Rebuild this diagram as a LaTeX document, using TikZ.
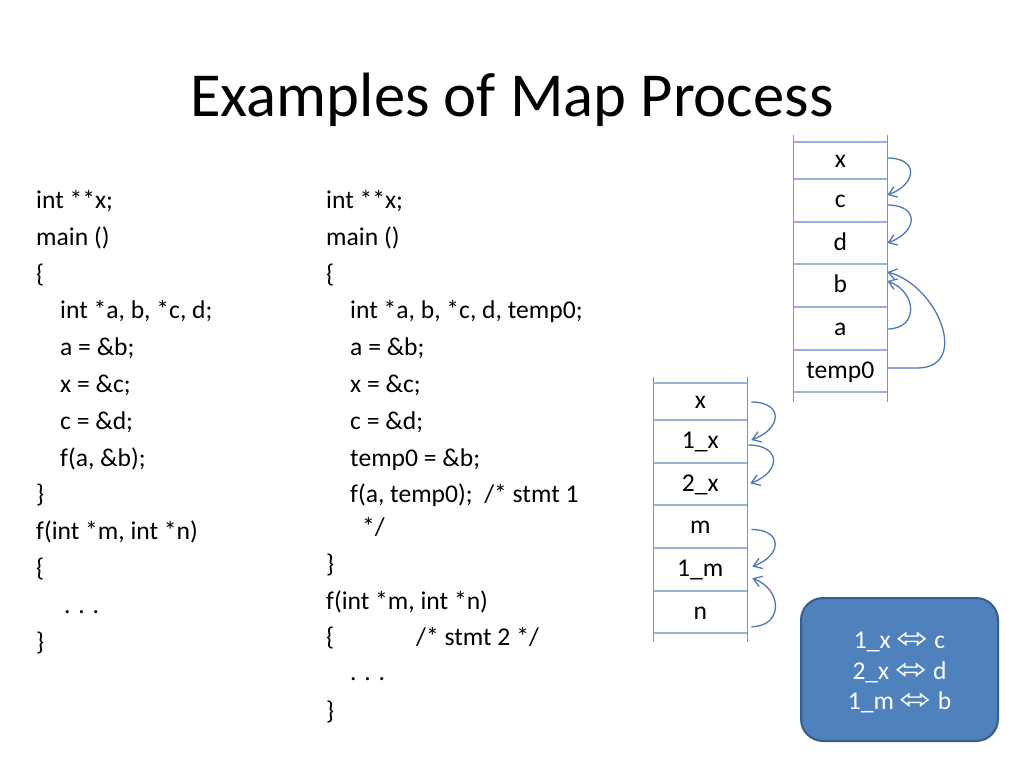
\documentclass[tikz,border=0pt]{standalone}
\usepackage{fontspec}
\setmainfont{Carlito}
\newfontfamily\symfont{DejaVu Sans}
\usetikzlibrary{positioning,arrows.meta}
\definecolor{arrowblue}{HTML}{4E78B8}
\definecolor{cellline}{HTML}{9AB3DD}
\definecolor{stackline}{HTML}{8193B7}
\definecolor{boxfill}{HTML}{4F81BD}
\definecolor{boxline}{HTML}{385D8A}
\newcommand{\codesize}{\fontsize{25.6}{30.8}\selectfont}
\newcommand{\titlesize}{\fontsize{62.6}{75}\selectfont}
\newcommand{\maps}{{\symfont\scalebox{1.5}[1.15]{⬄}}}
\tikzset{
  code/.style={anchor=base west, inner sep=0pt, font=\codesize},
  cell/.style={minimum width=94pt, inner sep=0pt, outer sep=0pt, text height=18pt, text depth=4pt, font=\codesize},
  ptr/.style={draw=arrowblue, line width=1.3pt, -{Straight Barb[length=8pt,width=11pt]}},
  mapbox/.style={rounded corners=22pt, fill=boxfill, draw=boxline, line width=2pt, minimum width=197pt, minimum height=143pt},
  maptext/.style={text=white, align=center, inner sep=0pt, font=\codesize}
}

\begin{document}
\begin{tikzpicture}[x=1pt, y=1pt, node distance=0pt]
\useasboundingbox[fill=white] (0,0) rectangle (1024,-768);
\node[anchor=base, inner sep=0pt, font=\titlesize] (title) at (512,-116.7) {Examples of Map Process};

% original program
\node[code] (src1) at (36,-208.5) {int **x;};
\node[code] (src2) at (36,-245.3) {main ()};
\node[code] (src3) at (36,-282.1) {\{};
\node[code] (src4) at (60,-318.9) {int *a, b, *c, d;};
\node[code] (src5) at (60,-355.7) {a = \&b;};
\node[code] (src6) at (60,-392.5) {x = \&c;};
\node[code] (src7) at (60,-429.3) {c = \&d;};
\node[code] (src8) at (60,-466.1) {f(a, \&b);};
\node[code] (src9) at (36,-502.9) {\}};
\node[code] (src10) at (36,-539.7) {f(int *m, int *n)};
\node[code] (src11) at (36,-576.5) {\{};
\node[code] (src12) at (64,-613.3) {. . .};
\node[code] (src13) at (36,-650.1) {\}};

% program with temp0
\node[code] (tmp1) at (326,-208.5) {int **x;};
\node[code] (tmp2) at (326,-245.3) {main ()};
\node[code] (tmp3) at (326,-282.1) {\{};
\node[code] (tmp4) at (350,-318.9) {int *a, b, *c, d, temp0;};
\node[code] (tmp5) at (350,-355.7) {a = \&b;};
\node[code] (tmp6) at (350,-392.5) {x = \&c;};
\node[code] (tmp7) at (350,-429.3) {c = \&d;};
\node[code] (tmp8) at (350,-466.1) {temp0 = \&b;};
\node[code] (tmp9) at (350,-502.9) {f(a, temp0);\ \ /* stmt 1};
\node[code] (tmp10) at (362,-535.4) {*/};
\node[code] (tmp11) at (326,-572.2) {\}};
\node[code] (tmp12) at (326,-609) {f(int *m, int *n)};
\node[code] (tmp13) at (326,-645.8) {\makebox[90pt][l]{\{}/* stmt 2 */};
\node[code] (tmp14) at (350,-680) {. . .};
\node[code] (tmp15) at (326,-719.4) {\}};

% stack of main
\node[cell, minimum height=37pt] (sx) at (840.3,-160.5) {x};
\node[cell, minimum height=43pt, below=of sx] (sc) {c};
\node[cell, minimum height=42pt, below=of sc] (sd) {d};
\node[cell, minimum height=43pt, below=of sd] (sb) {b};
\node[cell, minimum height=43pt, below=of sb] (sa) {a};
\node[cell, minimum height=42pt, below=of sa] (stemp) {temp0};
\draw[cellline, line width=1.2pt] (sx.north west) -- (sx.north east) (sc.north west) -- (sc.north east)
  (sd.north west) -- (sd.north east) (sb.north west) -- (sb.north east) (sa.north west) -- (sa.north east)
  (stemp.north west) -- (stemp.north east) (stemp.south west) -- (stemp.south east);
\draw[stackline, line width=1.2pt] ([yshift=7pt]sx.north west) -- ([yshift=-10pt]stemp.south west);
\draw[stackline, line width=1.2pt] ([yshift=7pt]sx.north east) -- ([yshift=-10pt]stemp.south east);
\draw[ptr] ([yshift=2.5pt]sx.east) to[out=0, in=20, looseness=2.2] ([yshift=5.5pt]sc.east);
\draw[ptr] ([yshift=-4.5pt]sc.east) to[out=0, in=20, looseness=2.2] (sd.east);
\draw[ptr] ([yshift=-0.5pt]sa.east) to[out=0, in=-20, looseness=1.7] ([yshift=4.5pt]sb.east);
\draw[ptr] ([yshift=3pt]stemp.east) -- ++(30,0) to[out=0, in=-15, looseness=1.35] ([yshift=13.5pt]sb.east);

% stack of f
\node[cell, minimum height=37pt] (fx) at (700.3,-401.5) {x};
\node[cell, minimum height=43pt, below=of fx] (f1x) {1\_x};
\node[cell, minimum height=42pt, below=of f1x] (f2x) {2\_x};
\node[cell, minimum height=43pt, below=of f2x] (fm) {m};
\node[cell, minimum height=43pt, below=of fm] (f1m) {1\_m};
\node[cell, minimum height=42pt, below=of f1m] (fn) {n};
\draw[cellline, line width=1.2pt] (fx.north west) -- (fx.north east) (f1x.north west) -- (f1x.north east)
  (f2x.north west) -- (f2x.north east) (fm.north west) -- (fm.north east) (f1m.north west) -- (f1m.north east)
  (fn.north west) -- (fn.north east) (fn.south west) -- (fn.south east);
\draw[stackline, line width=1.2pt] ([yshift=6pt]fx.north west) -- ([yshift=-9pt]fn.south west);
\draw[stackline, line width=1.2pt] ([yshift=6pt]fx.north east) -- ([yshift=-9pt]fn.south east);
\draw[ptr] ([xshift=4pt, yshift=-0.5pt]fx.east) to[out=0, in=20, looseness=2.2] ([xshift=4pt, yshift=1.5pt]f1x.east);
\draw[ptr] ([xshift=1pt, yshift=-3.5pt]f1x.east) to[out=0, in=20, looseness=2.2] ([xshift=3pt, yshift=0.7pt]f2x.east);
\draw[ptr] ([xshift=4pt, yshift=-3pt]fm.east) to[out=0, in=20, looseness=2.2] ([xshift=5pt, yshift=3pt]f1m.east);
\draw[ptr] ([xshift=4pt, yshift=-14.7pt]fn.east) to[out=0, in=-20, looseness=1.7] ([xshift=5pt, yshift=-8.8pt]f1m.east);

% mapping
\node[mapbox] (map) at (899.5,-669.5) {};
\node[maptext] (mapping) at ([yshift=-3pt]map.center) {1\_x \maps{} c\\2\_x \maps{} d\\1\_m \maps{} b};
\end{tikzpicture}
\end{document}
